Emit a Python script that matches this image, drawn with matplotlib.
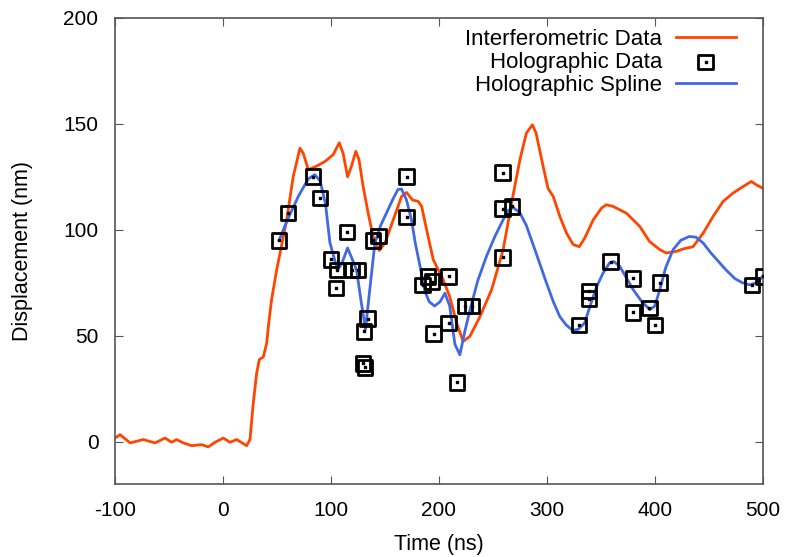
import matplotlib.pyplot as plt
from matplotlib.legend_handler import HandlerTuple

plt.rcParams['font.family'] = ['Liberation Sans', 'DejaVu Sans']
plt.rcParams['axes.unicode_minus'] = False

# Interferometric data
interf_t = [-100, -95.4, -86, -73.8, -63, -53.7, -47.5, -43, -36.8, -29, -19.8, -13.6, -7.4,
            0.3, 6.5, 12.7, 21.9, 25, 28, 31.2, 33.6, 37.3, 40.5, 42, 45, 49.7, 59, 65,
            71.3, 74.4, 79, 86.7, 94.4, 102, 107.7, 111.3, 115.4, 119, 123, 126, 129.8,
            134.5, 139, 144.7, 150, 157.7, 165.4, 170, 175.6, 180.8, 184, 188.6, 194.8,
            204, 210, 216.4, 222.5, 228.7, 238, 248.8, 259.5, 267.3, 275, 281, 286.6, 290,
            296.5, 301, 305.9, 312, 318.2, 324.4, 330, 335, 343, 350.6, 355, 361.4, 373.7,
            386, 395, 404.6, 410.8, 420, 426, 435.4, 444.8, 454, 463.3, 472.5, 481.8,
            489.5, 494, 500]
interf_d = [1.7, 3.3, -0.6, 1, -0.6, 1.7, -0.3, 1, -0.6, -1.9, -1.4, -2.5, -0.3,
            1.7, -0.3, 1, -1.9, 1, 18, 32.4, 38.7, 40, 46.5, 54.4, 67, 81, 104.7, 125,
            138.5, 136, 128.3, 130, 132.2, 135.4, 141, 136, 125, 130, 137, 133, 120.4,
            107.8, 96.8, 90.2, 93.7, 104.7, 115.7, 117.6, 114, 113.4, 111, 100, 85.8,
            76.4, 68.5, 56, 47.3, 49.7, 59, 71.7, 90.6, 112.6, 133, 145.6, 149.5, 145.6,
            130, 119.6, 115.7, 106.3, 98.4, 93, 92, 96, 104.7, 110.2, 111.8, 111, 107.8,
            101.6, 94.5, 90.6, 89, 89.8, 90.9, 92, 98.4, 106.3, 113.4, 117.3, 120.4,
            122.8, 121.2, 119.6]

# Holographic data points
holo_t = [51.9, 60.2, 83.3, 89.8, 100, 105.6, 104.6, 115, 119.4, 125, 130.6, 134, 129.6,
          131.5, 139, 144, 170, 170, 185, 190, 193.5, 209, 195, 209, 224, 230.5, 216.7,
          259, 259, 267.6, 259, 329.6, 339, 339, 359, 379.6, 379.6, 395, 400, 404.6,
          490, 500]
holo_d = [95, 108, 125, 115, 86, 81, 72.6, 99, 81, 81, 52, 58, 37, 35, 95, 97, 125, 106,
          74, 78, 75.5, 78, 51, 56, 64, 64, 28, 127, 110, 111, 87, 55, 71, 67.5, 85, 77,
          61, 63, 55, 75, 74, 78]

# Holographic spline
spline_t = [51.9, 60, 70, 79, 85, 90, 95, 99, 106, 110, 115.4, 119, 123.7, 128, 132, 136,
            140.7, 146, 151.5, 157, 162, 165.4, 170, 174.6, 178, 182.4, 187, 191, 196,
            201, 205.6, 210, 214.8, 219.4, 224, 228.7, 236, 244, 252, 259.5, 264, 268.8,
            275, 281, 290, 299.7, 306, 312, 318, 323.8, 329, 335, 340, 346, 352, 358,
            362, 367.6, 374, 380, 388, 395.4, 400, 404.6, 410, 416.9, 424, 431.8, 438,
            444.8, 452, 459, 466, 474, 481, 488, 494, 500]
spline_d = [95, 105, 116, 124, 126, 123, 112, 94, 81, 84, 91.4, 87, 81, 66, 53, 72,
            93.7, 102, 108, 114, 119, 119.2, 114, 104.7, 94, 83, 71, 66, 64, 66, 70, 64,
            46, 41, 52, 62, 76, 87.4, 97, 104.7, 109, 110.5, 108, 102, 89, 74.8, 66, 59,
            55, 52.5, 53, 56, 64, 73, 79.5, 84.3, 85, 82.7, 77, 71.7, 66, 62.3, 64, 71.7,
            82, 90.6, 95, 96.8, 96.5, 93.7, 89, 85, 81, 77, 75, 74, 75, 78]

fig, ax = plt.subplots(figsize=(7.88, 5.57), dpi=100)
fig.subplots_adjust(left=0.146, right=0.968, top=0.968, bottom=0.131)

l1, = ax.plot(interf_t, interf_d, color='#ff4500', lw=2)
sq = ax.scatter(holo_t, holo_d, marker='s', s=110, facecolors='none',
                edgecolors='black', linewidths=2, zorder=3)
dot = ax.scatter(holo_t, holo_d, marker='s', s=3, color='black', zorder=4)
l3, = ax.plot(spline_t, spline_d, color='#4169e1', lw=2)

ax.set_xlim(-100, 500)
ax.set_ylim(-20, 200)
ax.set_xticks([-100, 0, 100, 200, 300, 400, 500])
ax.set_yticks([0, 50, 100, 150, 200])
ax.tick_params(direction='in', top=True, right=True, labelsize=15, length=6,
               color='#555555', pad=12)
for s in ax.spines.values():
    s.set_color('#555555')
    s.set_linewidth(1.2)

ax.set_xlabel('Time (ns)', fontsize=15.5, labelpad=10)
ax.set_ylabel('Displacement (nm)', fontsize=15.5, labelpad=22)

leg = ax.legend([l1, (sq, dot), l3],
                ['Interferometric Data', 'Holographic Data', 'Holographic Spline'],
                handler_map={tuple: HandlerTuple(ndivide=1, pad=0)},
                loc='upper right', bbox_to_anchor=(0.972, 0.996),
                frameon=False, markerfirst=False, fontsize=16,
                handlelength=2.7, handletextpad=0.6, labelspacing=0.1,
                borderaxespad=0, scatterpoints=1)
for t in leg.get_texts():
    t.set_ha('right')

fig.savefig('out.png', dpi=100)
